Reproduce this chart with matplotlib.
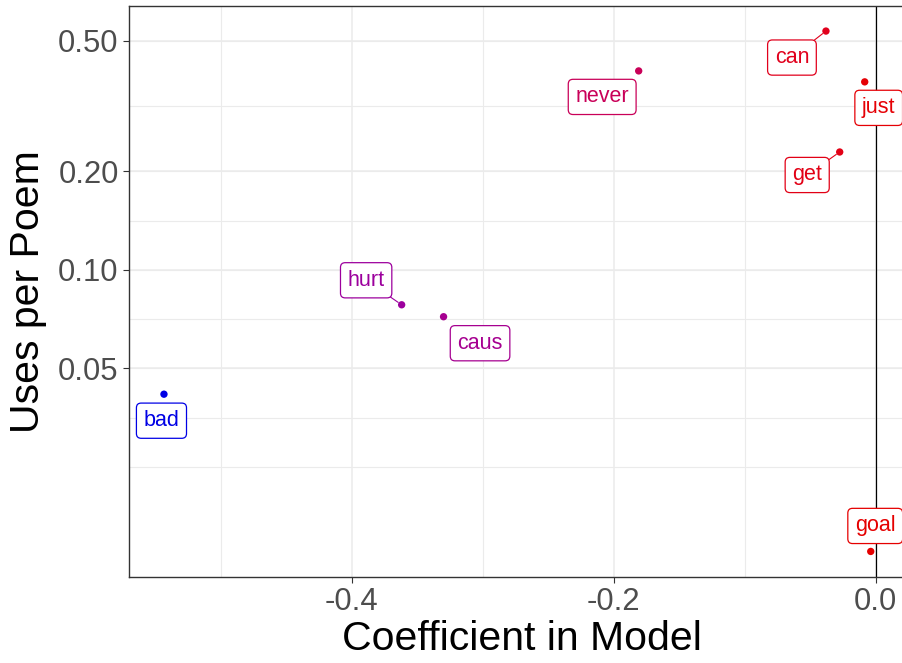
import numpy as np
import matplotlib.pyplot as plt

plt.rcParams['font.family'] = ['Liberation Sans', 'DejaVu Sans']

words = ["can", "just", "get", "never", "hurt", "caus", "bad", "goal"]
coef = [-0.038, -0.0084, -0.0275, -0.181, -0.362, -0.330, -0.5435, -0.0038]
uses = [0.536, 0.375, 0.229, 0.405, 0.0782, 0.0719, 0.0417, 0.0138]

y_breaks = [0.05, 0.10, 0.20, 0.50]
y_labels = ["0.05", "0.10", "0.20", "0.50"]
x_breaks = [-0.4, -0.2, 0.0]
x_labels = ["-0.4", "-0.2", "0.0"]

# where each repelled label sits relative to its point (pixels right, down)
offsets = {"can": (-34, 26.5), "just": (14, 26), "get": (-32.5, 23),
           "never": (-36.5, 26), "hurt": (-35.5, -24.5), "caus": (36.5, 26.5),
           "bad": (-2.5, 26.5), "goal": (4.5, -25.5)}
with_segment = {"can", "get", "hurt"}


def lab2rgb(lab):
    L, a, b = lab
    fy = (L + 16) / 116
    f = np.array([fy + a / 500, fy, fy - b / 200])
    xyz = np.where(f > 6 / 29, f ** 3, 3 * (6 / 29) ** 2 * (f - 4 / 29))
    xyz = xyz * np.array([0.95047, 1.0, 1.08883])
    m = np.array([[3.2406, -1.5372, -0.4986],
                  [-0.9689, 1.8758, 0.0415],
                  [0.0557, -0.2040, 1.0570]])
    rgb = m @ xyz
    rgb = np.where(rgb > 0.0031308,
                   1.055 * np.clip(rgb, 0.0031308, None) ** (1 / 2.4) - 0.055,
                   12.92 * rgb)
    return np.clip(rgb, 0, 1)


# gradient blue -> red interpolated in Lab, like ggplot's scale_colour_gradient
blue_lab = np.array([32.30, 79.19, -107.86])
red_lab = np.array([53.24, 80.09, 67.20])
cmin, cmax = min(coef), max(coef)
colors = [lab2rgb(blue_lab + (c - cmin) / (cmax - cmin) * (red_lab - blue_lab)) * 0.9
          for c in coef]

fig = plt.figure(figsize=(9.02, 6.63), dpi=100)
ax = fig.add_axes([129 / 902, 86 / 663, 786 / 902, 571 / 663])

ax.set_yscale('log')
ax.set_xlim(-0.5702, 0.03)
ax.set_ylim(0.01153, 0.6393)

# ggplot-style minor breaks: midpoints in log space, extended one step below
lb = np.log10(y_breaks)
step = lb[1] - lb[0]
ext = np.concatenate([[lb[0] - step], lb])
minor_y = 10 ** np.concatenate([ext, (ext[:-1] + ext[1:]) / 2])
minor_x = [-0.5, -0.3, -0.1]

for v in minor_y:
    ax.axhline(v, color='#EBEBEB', lw=0.8, zorder=0)
for v in minor_x:
    ax.axvline(v, color='#EBEBEB', lw=0.8, zorder=0)
for v in y_breaks:
    ax.axhline(v, color='#EBEBEB', lw=1.1, zorder=0)
for v in x_breaks:
    ax.axvline(v, color='#EBEBEB', lw=1.1, zorder=0)

ax.axvline(0, color='black', lw=0.9, zorder=1)

ax.scatter(coef, uses, c=colors, s=28, zorder=3, linewidths=0)

for w, x, y, col in zip(words, coef, uses, colors):
    dx, dy = offsets[w]
    arrow = None
    if w in with_segment:
        arrow = dict(arrowstyle='-', color=col, lw=0.8, shrinkA=0, shrinkB=3)
    ax.annotate(w, (x, y), xytext=(dx, -dy), textcoords='offset pixels',
                ha='center', va='center', fontsize=15.5, color=col, zorder=4,
                bbox=dict(boxstyle='round,pad=0.33,rounding_size=0.22',
                          fc='white', ec=col, lw=0.9),
                arrowprops=arrow)

ax.set_yticks(y_breaks)
ax.set_yticklabels(y_labels)
ax.yaxis.set_minor_locator(plt.NullLocator())
ax.set_xticks(x_breaks)
ax.set_xticklabels(x_labels)

ax.tick_params(axis='both', length=4.4, width=0.8, color='#333333',
               labelcolor='#4D4D4D', labelsize=22.3, pad=3)
for side in ax.spines.values():
    side.set_color('#333333')
    side.set_linewidth(1.0)

ax.set_xlabel("Coefficient in Model", fontsize=29.5, labelpad=2)
ax.set_ylabel("Uses per Poem", fontsize=29.5, labelpad=8)

fig.savefig("out.png", dpi=100)
